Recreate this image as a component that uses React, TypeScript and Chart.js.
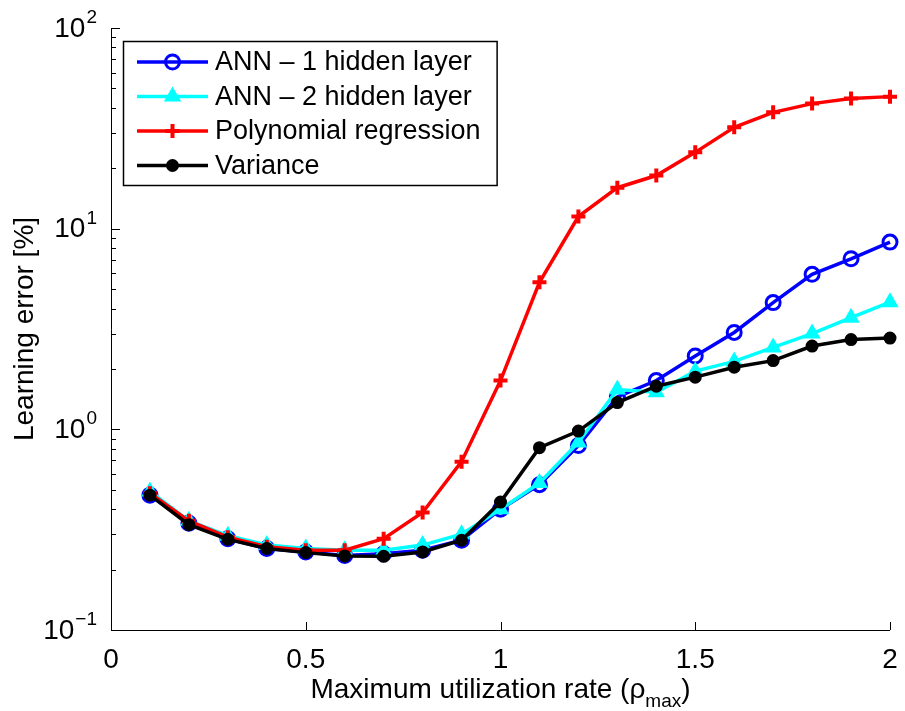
import React, { useEffect, useRef } from 'react';
import { Chart, registerables } from 'chart.js';

Chart.register(...registerables);

// ---- data ----
const utilization = [0.1, 0.2, 0.3, 0.4, 0.5, 0.6, 0.7, 0.8, 0.9, 1.0, 1.1, 1.2, 1.3, 1.4, 1.5, 1.6, 1.7, 1.8, 1.9, 2.0];
const ann1Hidden = [0.47, 0.34, 0.285, 0.255, 0.245, 0.235, 0.24, 0.25, 0.28, 0.4, 0.53, 0.83, 1.45, 1.75, 2.32, 3.04, 4.28, 5.92, 7.08, 8.57];
const ann2Hidden = [0.49, 0.35, 0.295, 0.265, 0.255, 0.25, 0.25, 0.265, 0.3, 0.4, 0.54, 0.86, 1.58, 1.53, 1.95, 2.18, 2.56, 3.0, 3.6, 4.3];
const polynomialRegression = [0.48, 0.35, 0.29, 0.26, 0.25, 0.25, 0.285, 0.385, 0.69, 1.75, 5.4, 11.5, 16, 18.4, 24, 32, 38, 42, 44.5, 45.5];
const variance = [0.47, 0.335, 0.283, 0.255, 0.243, 0.234, 0.233, 0.245, 0.28, 0.434, 0.81, 0.98, 1.36, 1.64, 1.82, 2.04, 2.2, 2.6, 2.8, 2.85];

const seriesLabels = ['ANN \u2013 1 hidden layer', 'ANN \u2013 2 hidden layer', 'Polynomial regression', 'Variance'];
const xTickValues = [0, 0.5, 1, 1.5, 2];
const xTickLabels = ['0', '0.5', '1', '1.5', '2'];
const yDecades = [-1, 0, 1, 2];
const xTitleMain = 'Maximum utilization rate (\u03C1';
const xTitleSub = 'max';
const xTitleEnd = ')';
const yTitle = 'Learning error [%]';

const FONT = '"Liberation Sans", Arial, Helvetica, sans-serif';

type Style = { color: string; marker: string; radius: number; fill: boolean; markerWidth: number };
const styles: Style[] = [
  { color: '#0000ff', marker: 'circle', radius: 7, fill: false, markerWidth: 3 },
  { color: '#00ffff', marker: 'triangle', radius: 8, fill: true, markerWidth: 2 },
  { color: '#ff0000', marker: 'cross', radius: 7, fill: false, markerWidth: 4 },
  { color: '#000000', marker: 'circle', radius: 5.5, fill: true, markerWidth: 2 },
];

function drawMarker(ctx: CanvasRenderingContext2D, s: Style, x: number, y: number) {
  ctx.save();
  ctx.strokeStyle = s.color;
  ctx.fillStyle = s.color;
  ctx.lineWidth = s.markerWidth;
  ctx.beginPath();
  const r = s.radius;
  if (s.marker === 'circle') {
    ctx.arc(x, y, r, 0, Math.PI * 2);
    if (s.fill) ctx.fill();
    ctx.stroke();
  } else if (s.marker === 'triangle') {
    let a = 0;
    ctx.moveTo(x + Math.sin(a) * r, y - Math.cos(a) * r);
    a += (2 * Math.PI) / 3;
    ctx.lineTo(x + Math.sin(a) * r, y - Math.cos(a) * r);
    a += (2 * Math.PI) / 3;
    ctx.lineTo(x + Math.sin(a) * r, y - Math.cos(a) * r);
    ctx.closePath();
    if (s.fill) ctx.fill();
    ctx.stroke();
  } else if (s.marker === 'cross') {
    ctx.moveTo(x, y - r);
    ctx.lineTo(x, y + r);
    ctx.moveTo(x - r, y);
    ctx.lineTo(x + r, y);
    ctx.stroke();
  }
  ctx.restore();
}

const matlabAxes = {
  id: 'matlabAxes',
  afterDraw(chart: any) {
    const { ctx, chartArea } = chart;
    const xs = chart.scales.x;
    const ys = chart.scales.y;
    const { left, right, top, bottom } = chartArea;
    ctx.save();
    ctx.strokeStyle = '#000';
    ctx.lineWidth = 1;
    // axis lines
    ctx.beginPath();
    ctx.moveTo(left + 0.5, top);
    ctx.lineTo(left + 0.5, bottom + 0.5);
    ctx.lineTo(right, bottom + 0.5);
    ctx.stroke();
    // x ticks (inward)
    ctx.beginPath();
    for (const v of xTickValues) {
      const px = Math.round(xs.getPixelForValue(v)) + 0.5;
      ctx.moveTo(px, bottom);
      ctx.lineTo(px, bottom - 8);
    }
    ctx.stroke();
    // y ticks (inward, with minor)
    ctx.beginPath();
    for (const e of yDecades) {
      for (let m = 1; m <= 9; m++) {
        const v = m * Math.pow(10, e);
        if (v > 100.0001) break;
        const py = Math.round(ys.getPixelForValue(v)) + 0.5;
        const len = m === 1 ? 9 : 5;
        ctx.moveTo(left, py);
        ctx.lineTo(left + len, py);
      }
    }
    ctx.stroke();
    // y tick labels 10^e
    ctx.fillStyle = '#000';
    const baseFont = `28px ${FONT}`;
    const supFont = `19px ${FONT}`;
    for (const e of yDecades) {
      const py = ys.getPixelForValue(Math.pow(10, e));
      const expStr = e < 0 ? '\u2212' + String(-e) : String(e);
      ctx.font = baseFont;
      const wb = ctx.measureText('10').width;
      ctx.font = supFont;
      const we = ctx.measureText(expStr).width;
      const rightEdge = left - 15;
      const xStart = rightEdge - wb - we;
      ctx.font = baseFont;
      ctx.textAlign = 'left';
      ctx.textBaseline = 'middle';
      ctx.fillText('10', xStart, py + 1);
      ctx.font = supFont;
      ctx.textBaseline = 'alphabetic';
      ctx.fillText(expStr, xStart + wb + 1, py - 5);
    }
    // x title with subscript
    const mainFont = `28px ${FONT}`;
    const subFont = `19px ${FONT}`;
    ctx.font = mainFont;
    const w1 = ctx.measureText(xTitleMain).width;
    const w3 = ctx.measureText(xTitleEnd).width;
    ctx.font = subFont;
    const w2 = ctx.measureText(xTitleSub).width;
    const total = w1 + w2 + w3;
    const cx = (left + right) / 2;
    const baseY = chart.height - 13;
    let tx = cx - total / 2;
    ctx.textAlign = 'left';
    ctx.textBaseline = 'alphabetic';
    ctx.font = mainFont;
    ctx.fillText(xTitleMain, tx, baseY);
    tx += w1;
    ctx.font = subFont;
    ctx.fillText(xTitleSub, tx, baseY + 9);
    tx += w2;
    ctx.font = mainFont;
    ctx.fillText(xTitleEnd, tx, baseY);

    // legend
    const legFont = `27px ${FONT}`;
    ctx.font = legFont;
    let maxW = 0;
    for (const l of seriesLabels) maxW = Math.max(maxW, ctx.measureText(l).width);
    const bx = left + 12;
    const by = top + 13;
    const textX = bx + 92;
    const bw = textX - bx + maxW + 16;
    const rowH = 34.5;
    const bh = 21 + rowH * (seriesLabels.length - 1) + 19.5;
    ctx.fillStyle = '#fff';
    ctx.fillRect(bx, by, bw, bh);
    ctx.strokeStyle = '#000';
    ctx.lineWidth = 1.5;
    ctx.strokeRect(bx + 0.5, by + 0.5, bw, bh);
    seriesLabels.forEach((label, i) => {
      const cy = by + 21 + i * rowH;
      const s = styles[i];
      ctx.strokeStyle = s.color;
      ctx.lineWidth = 3.5;
      ctx.beginPath();
      ctx.moveTo(bx + 14, cy);
      ctx.lineTo(bx + 85, cy);
      ctx.stroke();
      drawMarker(ctx, s, bx + 49.5, cy);
      ctx.fillStyle = '#000';
      ctx.font = legFont;
      ctx.textAlign = 'left';
      ctx.textBaseline = 'middle';
      ctx.fillText(label, textX, cy + 1);
    });
    ctx.restore();
  },
};

export default function App() {
  const canvasRef = useRef<HTMLCanvasElement | null>(null);

  useEffect(() => {
    const canvas = canvasRef.current;
    if (!canvas) return;
    const seriesValues = [ann1Hidden, ann2Hidden, polynomialRegression, variance];
    const orders = [3, 2, 1, 0];
    const datasets = seriesValues.map((vals, i) => {
      const s = styles[i];
      return {
        label: seriesLabels[i],
        data: utilization.map((x, k) => ({ x, y: vals[k] })),
        borderColor: s.color,
        backgroundColor: s.color,
        borderWidth: 3.5,
        pointStyle: s.marker,
        pointRadius: s.radius,
        pointBorderWidth: s.markerWidth,
        pointBorderColor: s.color,
        pointBackgroundColor: s.fill ? s.color : 'rgba(0,0,0,0)',
        tension: 0,
        clip: false as any,
        order: orders[i],
      };
    });
    const chart = new Chart(canvas, {
      type: 'line',
      data: { datasets },
      options: {
        responsive: false,
        animation: false,
        events: [],
        devicePixelRatio: 1,
        layout: { padding: { left: 0, top: 28, right: 15, bottom: 0 } },
        plugins: { legend: { display: false }, tooltip: { enabled: false } },
        scales: {
          x: {
            type: 'linear',
            min: 0,
            max: 2,
            afterBuildTicks: (s: any) => {
              s.ticks = xTickValues.map((v) => ({ value: v }));
            },
            ticks: {
              font: { family: FONT, size: 28 },
              color: '#000',
              padding: 13,
              maxRotation: 0,
              autoSkip: false,
              callback: (_v: any, i: number) => xTickLabels[i],
            },
            grid: { display: false, drawTicks: false },
            border: { display: false },
            afterFit: (s: any) => {
              s.height = 81;
              s.paddingLeft = 0;
              s.paddingRight = 0;
            },
          },
          y: {
            type: 'logarithmic',
            min: 0.1,
            max: 100,
            ticks: { display: false },
            grid: { display: false, drawTicks: false },
            border: { display: false },
            title: {
              display: true,
              text: yTitle,
              font: { family: FONT, size: 28 },
              color: '#000',
              padding: { top: 8, bottom: 0 },
            },
            afterFit: (s: any) => {
              s.width = 111;
              s.paddingTop = 0;
              s.paddingBottom = 0;
            },
          },
        },
      },
      plugins: [matlabAxes],
    } as any);
    return () => chart.destroy();
  }, []);

  return (
    <div style={{ position: 'absolute', left: 0, top: 0, width: 905, height: 711, background: '#fff' }}>
      <canvas ref={canvasRef} width={905} height={711} style={{ display: 'block', width: 905, height: 711 }} />
    </div>
  );
}
